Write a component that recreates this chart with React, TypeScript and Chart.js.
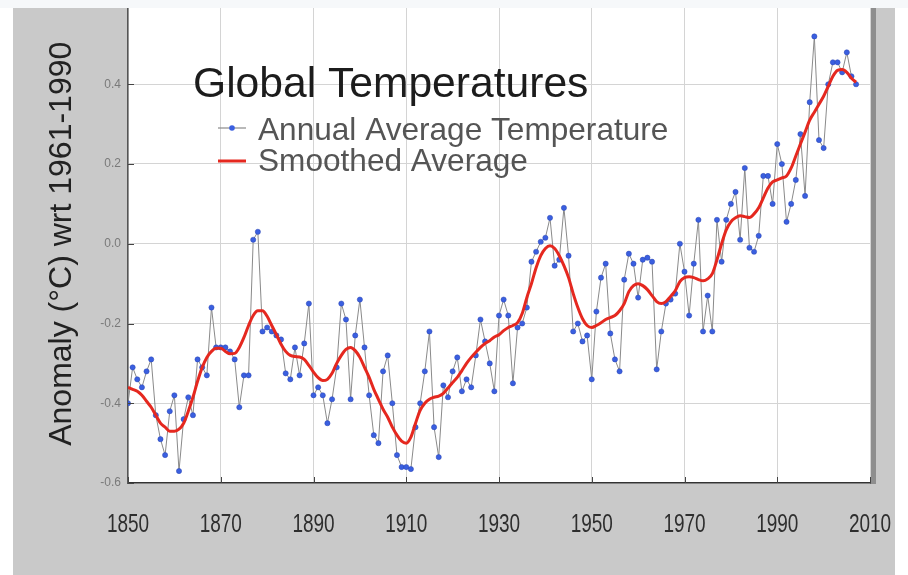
import { useEffect, useRef } from "react";
import { Chart, registerables } from "chart.js";

Chart.register(...registerables);

const FIRST_YEAR = 1850;

// Annual average temperature anomaly (°C wrt 1961-1990), 1850..2007
const ANNUAL: number[] = [
  -0.40, -0.31, -0.34, -0.36, -0.32, -0.29, -0.43, -0.49, -0.53, -0.42,
  -0.38, -0.57, -0.44, -0.385, -0.43, -0.29, -0.31, -0.33, -0.16, -0.26,
  -0.26, -0.26, -0.27, -0.29, -0.41, -0.33, -0.33, 0.01, 0.03, -0.22,
  -0.21, -0.22, -0.23, -0.24, -0.325, -0.34, -0.26, -0.33, -0.25, -0.15,
  -0.38, -0.36, -0.38, -0.45, -0.39, -0.31, -0.15, -0.19, -0.39, -0.23,
  -0.14, -0.26, -0.38, -0.48, -0.50, -0.32, -0.28, -0.40, -0.53, -0.56,
  -0.56, -0.565, -0.46, -0.40, -0.32, -0.22, -0.46, -0.535, -0.355, -0.385,
  -0.32, -0.285, -0.37, -0.34, -0.36, -0.28, -0.19, -0.245, -0.30, -0.37,
  -0.18, -0.14, -0.18, -0.35, -0.21, -0.20, -0.16, -0.045, -0.02, 0.005,
  0.015, 0.065, -0.055, -0.04, 0.09, -0.03, -0.22, -0.20, -0.245, -0.23,
  -0.34, -0.17, -0.085, -0.05, -0.225, -0.29, -0.32, -0.09, -0.025, -0.05,
  -0.135, -0.04, -0.035, -0.045, -0.315, -0.22, -0.15, -0.14, -0.125, 0.0,
  -0.07, -0.18, -0.05, 0.06, -0.22, -0.13, -0.22, 0.06, -0.045, 0.06,
  0.10, 0.13, 0.01, 0.19, -0.01, -0.02, 0.02, 0.17, 0.17, 0.10,
  0.25, 0.20, 0.055, 0.10, 0.16, 0.275, 0.12, 0.355, 0.52, 0.26,
  0.24, 0.40, 0.455, 0.455, 0.43, 0.48, 0.42, 0.40,
];

// Smoothed average, 1850..2007
const SMOOTHED: number[] = [
  -0.36, -0.365, -0.37, -0.38, -0.395, -0.41, -0.43, -0.45, -0.46, -0.47,
  -0.47, -0.465, -0.45, -0.42, -0.385, -0.345, -0.31, -0.285, -0.27, -0.262,
  -0.262, -0.27, -0.276, -0.275, -0.26, -0.235, -0.205, -0.18, -0.168, -0.168,
  -0.182, -0.205, -0.228, -0.252, -0.27, -0.28, -0.283, -0.284, -0.29, -0.305,
  -0.322, -0.336, -0.343, -0.34, -0.325, -0.30, -0.28, -0.265, -0.26, -0.268,
  -0.285, -0.31, -0.335, -0.365, -0.39, -0.415, -0.435, -0.46, -0.48, -0.495,
  -0.50, -0.485, -0.45, -0.418, -0.40, -0.39, -0.385, -0.382, -0.375, -0.362,
  -0.348, -0.335, -0.318, -0.30, -0.285, -0.272, -0.26, -0.25, -0.243, -0.234,
  -0.228, -0.218, -0.21, -0.205, -0.198, -0.175, -0.135, -0.10, -0.06, -0.03,
  -0.012, -0.005, -0.012, -0.03, -0.055, -0.085, -0.125, -0.16, -0.188, -0.205,
  -0.21, -0.205, -0.198, -0.19, -0.185, -0.18, -0.168, -0.15, -0.12, -0.105,
  -0.10, -0.105, -0.115, -0.13, -0.145, -0.15, -0.145, -0.132, -0.118, -0.095,
  -0.085, -0.083, -0.085, -0.09, -0.093, -0.088, -0.075, -0.04, 0.0, 0.035,
  0.055, 0.065, 0.07, 0.068, 0.066, 0.075, 0.09, 0.115, 0.14, 0.155,
  0.16, 0.165, 0.17, 0.19, 0.22, 0.25, 0.28, 0.31, 0.33, 0.35,
  0.37, 0.395, 0.42, 0.435, 0.437, 0.43, 0.415, 0.405,
];

const X_TICKS = [1850, 1870, 1890, 1910, 1930, 1950, 1970, 1990, 2010];
const Y_TICKS = [-0.6, -0.4, -0.2, 0.0, 0.2, 0.4, 0.6];

const TITLE = "Global Temperatures";
const SERIES_NAMES = ["Annual Average Temperature", "Smoothed Average"];
const Y_TITLE = "Anomaly (°C) wrt 1961-1990";

const SANS = '"Liberation Sans", Arial, sans-serif';

const BLUE = "#3a5fe0";
const RED = "#e5281f";
const LINK = "#8a8a8a";

const decorPlugin = {
  id: "decor",
  beforeDraw(chart: any) {
    const { ctx, chartArea: a } = chart;
    ctx.save();
    ctx.fillStyle = "#ffffff";
    ctx.fillRect(a.left, 0, a.right - a.left, a.bottom);
    ctx.fillStyle = "#8e8e8e";
    ctx.fillRect(a.right, 0, 6, a.bottom + 1);
    ctx.restore();
  },
  afterDraw(chart: any) {
    const { ctx, chartArea: a, scales } = chart;
    ctx.save();
    // inward tick marks
    ctx.strokeStyle = "#444";
    ctx.lineWidth = 1;
    ctx.beginPath();
    for (const v of X_TICKS) {
      const x = Math.round(scales.x.getPixelForValue(v)) + 0.5;
      ctx.moveTo(x, a.bottom);
      ctx.lineTo(x, a.bottom - 6);
    }
    for (const v of Y_TICKS) {
      const y = Math.round(scales.y.getPixelForValue(v)) + 0.5;
      ctx.moveTo(a.left, y);
      ctx.lineTo(a.left + 6, y);
    }
    ctx.stroke();

    // x tick labels (narrow, tall)
    ctx.fillStyle = "#2e2e2e";
    ctx.font = `26px ${SANS}`;
    ctx.textAlign = "center";
    ctx.textBaseline = "alphabetic";
    for (const v of X_TICKS) {
      const x = scales.x.getPixelForValue(v);
      ctx.save();
      ctx.translate(x, 532);
      ctx.scale(0.73, 1);
      ctx.fillText(String(v), 0, 0);
      ctx.restore();
    }

    // title inside plot
    const lx = a.left;
    ctx.textAlign = "left";
    ctx.fillStyle = "#1c1c1c";
    ctx.font = `42.6px ${SANS}`;
    ctx.fillText(TITLE, lx + 65, 97);

    // legend: annual
    ctx.strokeStyle = LINK;
    ctx.lineWidth = 1.2;
    ctx.beginPath();
    ctx.moveTo(lx + 90, 128);
    ctx.lineTo(lx + 118, 128);
    ctx.stroke();
    ctx.fillStyle = BLUE;
    ctx.beginPath();
    ctx.arc(lx + 104, 128, 2.8, 0, Math.PI * 2);
    ctx.fill();
    // legend: smoothed
    ctx.strokeStyle = RED;
    ctx.lineWidth = 3;
    ctx.beginPath();
    ctx.moveTo(lx + 90, 161);
    ctx.lineTo(lx + 118, 161);
    ctx.stroke();

    ctx.fillStyle = "#555555";
    ctx.font = `31.6px ${SANS}`;
    ctx.fillText(SERIES_NAMES[0], lx + 130, 140);
    ctx.fillText(SERIES_NAMES[1], lx + 130, 171);
    ctx.restore();
  },
};

export default function App() {
  const ref = useRef<HTMLCanvasElement>(null);

  useEffect(() => {
    const canvas = ref.current;
    if (!canvas) return;
    const annualPts = ANNUAL.map((v, i) => ({ x: FIRST_YEAR + i, y: v }));
    const smoothPts = SMOOTHED.map((v, i) => ({ x: FIRST_YEAR + i, y: v }));
    const chart = new Chart(canvas, {
      type: "line",
      data: {
        datasets: [
          {
            label: SERIES_NAMES[1],
            data: smoothPts,
            borderColor: RED,
            borderWidth: 3,
            pointRadius: 0,
            cubicInterpolationMode: "monotone",
            order: 0,
          },
          {
            label: SERIES_NAMES[0],
            data: annualPts,
            borderColor: LINK,
            borderWidth: 1,
            pointRadius: 2.6,
            pointBackgroundColor: BLUE,
            pointBorderColor: "#2b45b0",
            pointBorderWidth: 0.5,
            order: 1,
          },
        ],
      },
      options: {
        responsive: false,
        animation: false,
        devicePixelRatio: 1,
        layout: { padding: { left: 0, right: 38, top: 3, bottom: 0 } },
        plugins: {
          legend: { display: false },
          tooltip: { enabled: false },
          title: { display: false },
        },
        scales: {
          x: {
            type: "linear",
            min: 1850,
            max: 2010,
            afterFit: (s: any) => {
              s.height = 92;
              s.paddingLeft = 0;
              s.paddingRight = 0;
            },
            afterBuildTicks: (s: any) => {
              s.ticks = X_TICKS.map((v) => ({ value: v }));
            },
            grid: { color: "#d4d4d4", lineWidth: 1, drawTicks: false },
            border: { color: "#333333", width: 1.5 },
            ticks: { display: false },
          },
          y: {
            type: "linear",
            min: -0.6,
            max: 0.6,
            afterFit: (s: any) => {
              s.width = 128;
              s.paddingTop = 0;
              s.paddingBottom = 0;
            },
            afterBuildTicks: (s: any) => {
              s.ticks = Y_TICKS.map((v) => ({ value: v }));
            },
            grid: { color: "#d4d4d4", lineWidth: 1, drawTicks: false },
            border: { color: "#555555", width: 1.5 },
            ticks: {
              padding: 7,
              color: "#7a7a7a",
              font: { family: SANS, size: 12 },
              callback: (v: any) => Number(v).toFixed(1),
            },
            title: {
              display: true,
              text: Y_TITLE,
              color: "#222222",
              font: { family: SANS, size: 32, lineHeight: 1 },
              padding: { top: 46, bottom: 0 },
            },
          },
        },
      },
      plugins: [decorPlugin],
    } as any);
    return () => chart.destroy();
  }, []);

  return (
    <div
      style={{
        position: "fixed",
        left: 0,
        top: 0,
        width: 908,
        height: 575,
        background: "#ffffff",
        overflow: "hidden",
      }}
    >
      <div
        style={{
          position: "absolute",
          left: 13,
          top: 8,
          width: 882,
          height: 567,
          background: "#c9c9c9",
        }}
      />
      <canvas
        ref={ref}
        width={908}
        height={575}
        style={{ position: "absolute", left: 0, top: 0, width: 908, height: 575 }}
      />
      <div
        style={{
          position: "absolute",
          left: 0,
          top: 0,
          width: 908,
          height: 8,
          background: "#f6f8fa",
        }}
      />
    </div>
  );
}
